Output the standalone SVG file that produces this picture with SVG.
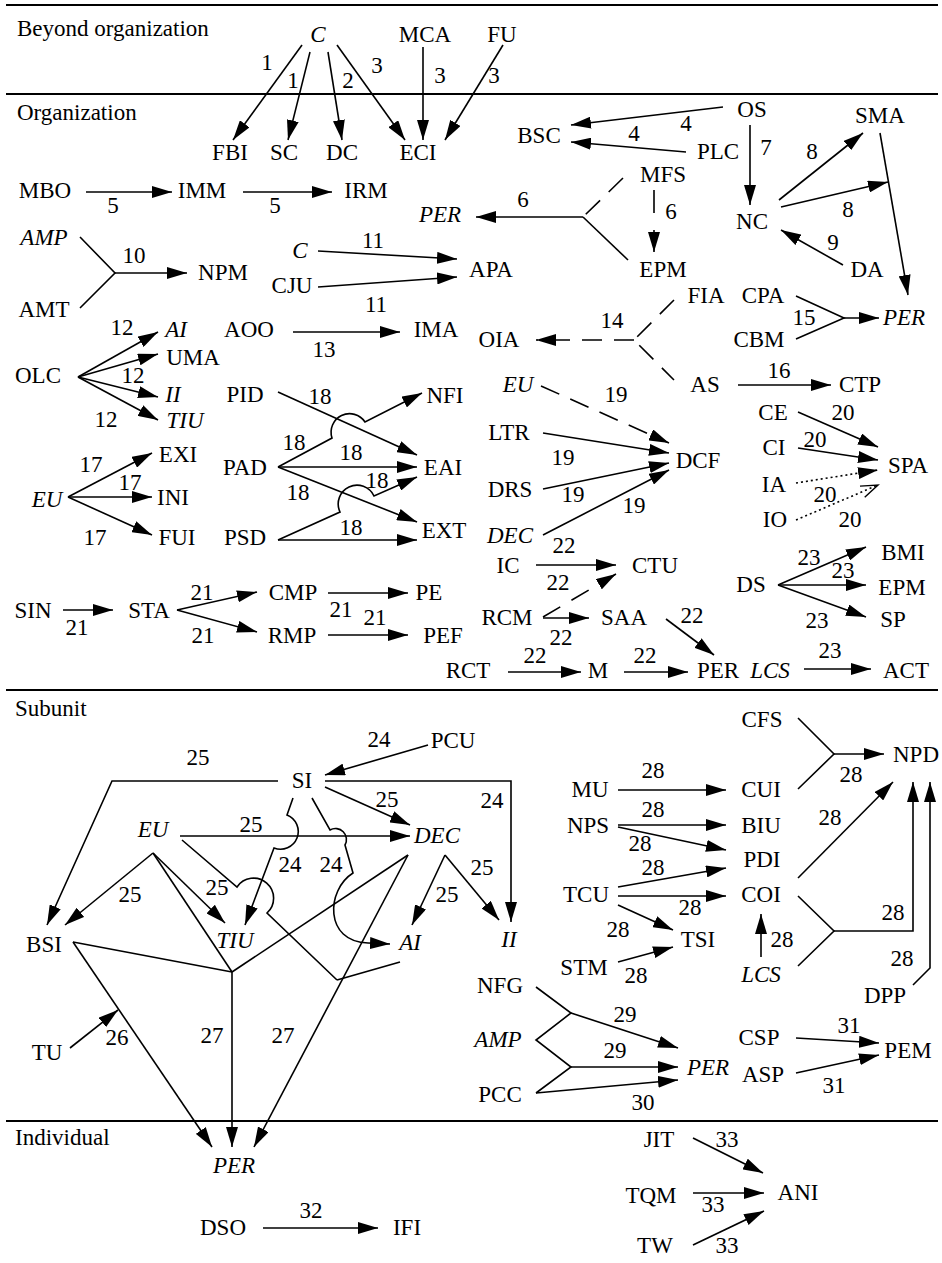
<svg xmlns="http://www.w3.org/2000/svg" width="942" height="1263" viewBox="0 0 942 1263" font-family="'Liberation Serif', 'Times New Roman', Times, serif">
<style>
text{font-family:'Liberation Serif', 'Times New Roman', Times, serif;font-size:23px;fill:#000;text-anchor:middle}
.i{font-style:italic}
.sec{text-anchor:start}
.e{fill:none;stroke:#000;stroke-width:1.6}
.a{marker-end:url(#ah)}
.ao{marker-end:url(#ao)}
.d{stroke-dasharray:20 12}
.o{stroke-dasharray:2 3}
.div{stroke:#000;stroke-width:2.2}
</style>
<defs>
<marker id="ah" markerUnits="userSpaceOnUse" markerWidth="20" markerHeight="12" viewBox="0 0 20 12" refX="20" refY="6" orient="auto"><path d="M0,0L20,6L0,12Z" fill="#000"/></marker>
<marker id="ao" markerUnits="userSpaceOnUse" markerWidth="20" markerHeight="14" viewBox="0 0 20 14" refX="19" refY="7" orient="auto" overflow="visible"><path d="M2,1L19,7L2,13" fill="none" stroke="#000" stroke-width="1.4"/></marker>
</defs>
<rect width="942" height="1263" fill="#fff"/>

<g id="dividers" font-family="'Liberation Serif', serif">
<line class="div" x1="6" y1="5" x2="938" y2="5"/>
<line class="div" x1="6" y1="94" x2="938" y2="94"/>
<line class="div" x1="6" y1="690" x2="938" y2="690"/>
<line class="div" x1="6" y1="1121" x2="938" y2="1121"/>
<text class="sec" x="17" y="36">Beyond organization</text>
<text class="sec" x="17" y="120">Organization</text>
<text class="sec" x="15" y="716">Subunit</text>
<text class="sec" x="15" y="1145">Individual</text>
</g>

<g id="connectors" font-family="'Liberation Serif', serif">
<line class="e a" x1="302" y1="45" x2="233" y2="140"/>
<line class="e a" x1="310" y1="52" x2="288" y2="140"/>
<line class="e a" x1="328" y1="52" x2="342" y2="140"/>
<line class="e a" x1="337" y1="45" x2="405" y2="140"/>
<line class="e a" x1="423" y1="47" x2="423" y2="140"/>
<line class="e a" x1="503" y1="45" x2="445" y2="140"/>
<line class="e a" x1="86" y1="192" x2="172" y2="192"/>
<line class="e a" x1="243" y1="192" x2="332" y2="192"/>
<line class="e a" x1="723" y1="107" x2="571" y2="125"/>
<line class="e a" x1="686" y1="152" x2="571" y2="142"/>
<line class="e a" x1="750" y1="125" x2="750" y2="205"/>
<line class="e a" x1="779" y1="200" x2="863" y2="133"/>
<line class="e a" x1="781" y1="207" x2="888" y2="182"/>
<line class="e a" x1="880" y1="133" x2="908" y2="295"/>
<line class="e a" x1="843" y1="265" x2="781" y2="230"/>
<line class="e d" x1="623" y1="178" x2="583" y2="217"/>
<line class="e" x1="628" y1="260" x2="583" y2="217"/>
<line class="e a" x1="583" y1="217" x2="476" y2="217"/>
<line class="e a" x1="654" y1="190" x2="654" y2="252" stroke-dasharray="23 17 40"/>
<polyline class="e" points="80,237 115,273 80,308"/>
<line class="e a" x1="115" y1="273" x2="187" y2="273"/>
<line class="e a" x1="318" y1="251" x2="457" y2="259"/>
<line class="e a" x1="318" y1="287" x2="457" y2="277"/>
<line class="e a" x1="293" y1="332" x2="400" y2="332"/>
<line class="e a" x1="78" y1="377" x2="158" y2="332"/>
<line class="e a" x1="78" y1="377" x2="158" y2="354"/>
<line class="e a" x1="78" y1="377" x2="158" y2="397"/>
<line class="e a" x1="78" y1="377" x2="158" y2="420"/>
<line class="e a" x1="278" y1="392" x2="417" y2="455"/>
<path class="e a" d="M278,467L332,438A18.5,18.5 0 0 1 365,422L422,393"/>
<line class="e a" x1="278" y1="467" x2="417" y2="467"/>
<line class="e a" x1="278" y1="467" x2="417" y2="522"/>
<path class="e a" d="M278,540L340,512A18.5,18.5 0 0 1 374,496L417,477"/>
<line class="e a" x1="278" y1="540" x2="417" y2="540"/>
<line class="e a" x1="68" y1="497" x2="152" y2="453"/>
<line class="e a" x1="68" y1="497" x2="152" y2="497"/>
<line class="e a" x1="68" y1="497" x2="152" y2="535"/>
<polyline class="e d" points="674,300 634,340 674,380"/>
<line class="e d a" x1="634" y1="340" x2="536" y2="340"/>
<polyline class="e" points="796,296 844,318 796,339"/>
<line class="e a" x1="844" y1="318" x2="879" y2="318"/>
<line class="e a" x1="738" y1="385" x2="831" y2="385"/>
<line class="e d a" x1="541" y1="386" x2="669" y2="443"/>
<line class="e a" x1="543" y1="433" x2="669" y2="453"/>
<line class="e a" x1="543" y1="489" x2="669" y2="463"/>
<line class="e a" x1="543" y1="535" x2="669" y2="470"/>
<line class="e a" x1="798" y1="412" x2="878" y2="447"/>
<line class="e a" x1="798" y1="448" x2="878" y2="460"/>
<line class="e o a" x1="796" y1="483" x2="878" y2="470"/>
<line class="e o ao" x1="796" y1="520" x2="878" y2="485"/>
<line class="e a" x1="536" y1="565" x2="616" y2="565"/>
<line class="e a" x1="543" y1="617" x2="616" y2="574" stroke-dasharray="20 13"/>
<line class="e a" x1="543" y1="618" x2="589" y2="618"/>
<line class="e a" x1="666" y1="619" x2="714" y2="655"/>
<line class="e a" x1="508" y1="672" x2="581" y2="672"/>
<line class="e a" x1="624" y1="672" x2="688" y2="672"/>
<line class="e a" x1="778" y1="585" x2="866" y2="547"/>
<line class="e a" x1="778" y1="585" x2="866" y2="585"/>
<line class="e a" x1="778" y1="585" x2="866" y2="617"/>
<line class="e a" x1="804" y1="669" x2="871" y2="669"/>
<line class="e a" x1="63" y1="610" x2="113" y2="610"/>
<line class="e a" x1="177" y1="610" x2="257" y2="592"/>
<line class="e a" x1="177" y1="610" x2="257" y2="632"/>
<line class="e a" x1="328" y1="593" x2="408" y2="593"/>
<line class="e a" x1="328" y1="635" x2="408" y2="635"/>
<line class="e a" x1="428" y1="745" x2="325" y2="775"/>
<path class="e a" d="M278,781L112,781L47,925"/>
<path class="e a" d="M325,781L511,781L511,922"/>
<line class="e a" x1="325" y1="787" x2="410" y2="825"/>
<line class="e a" x1="180" y1="836" x2="410" y2="836"/>
<path class="e a" d="M293,798L287,815A17.7,17.7 0 0 1 274,848L245,925"/>
<path class="e a" d="M312,798L330,830A11,11 0 0 1 345,845L353,873C326,890 324,942 368,943L390,944"/>
<line class="e a" x1="153" y1="853" x2="65" y2="925"/>
<line class="e a" x1="153" y1="853" x2="225" y2="923"/>
<line class="e" x1="153" y1="853" x2="232" y2="972"/>
<path class="e" d="M182,840L237,887A20,20 0 1 1 267,913L337,980"/>
<line class="e" x1="73" y1="942" x2="232" y2="972"/>
<line class="e" x1="408" y1="855" x2="232" y2="972"/>
<line class="e a" x1="232" y1="972" x2="232" y2="1147"/>
<line class="e" x1="400" y1="962" x2="337" y2="980"/>
<line class="e a" x1="408" y1="855" x2="254" y2="1147"/>
<line class="e a" x1="73" y1="942" x2="212" y2="1147"/>
<line class="e a" x1="70" y1="1048" x2="118" y2="1010"/>
<line class="e a" x1="445" y1="855" x2="412" y2="925"/>
<line class="e a" x1="445" y1="855" x2="499" y2="920"/>
<line class="e a" x1="618" y1="790" x2="726" y2="790"/>
<line class="e a" x1="618" y1="825" x2="726" y2="825"/>
<line class="e a" x1="618" y1="827" x2="726" y2="850"/>
<line class="e a" x1="618" y1="887" x2="726" y2="868"/>
<line class="e a" x1="618" y1="896" x2="726" y2="896"/>
<line class="e a" x1="618" y1="905" x2="673" y2="930"/>
<line class="e a" x1="618" y1="962" x2="673" y2="947"/>
<line class="e a" x1="761" y1="957" x2="761" y2="914"/>
<polyline class="e" points="798,718 834,754 798,789"/>
<line class="e a" x1="834" y1="754" x2="884" y2="754"/>
<line class="e a" x1="798" y1="878" x2="893" y2="782"/>
<polyline class="e" points="798,896 834,931 798,966"/>
<path class="e a" d="M834,931L913,931L913,782"/>
<path class="e a" d="M913,985L930,968L930,782"/>
<polyline class="e" points="536,987 571,1013 536,1040 571,1067 536,1093"/>
<line class="e a" x1="571" y1="1013" x2="678" y2="1048"/>
<line class="e a" x1="571" y1="1067" x2="678" y2="1067"/>
<line class="e a" x1="536" y1="1093" x2="678" y2="1080"/>
<line class="e a" x1="796" y1="1038" x2="879" y2="1043"/>
<line class="e a" x1="796" y1="1073" x2="879" y2="1055"/>
<line class="e a" x1="263" y1="1228" x2="378" y2="1228"/>
<line class="e a" x1="693" y1="1138" x2="763" y2="1173"/>
<line class="e a" x1="693" y1="1193" x2="764" y2="1193"/>
<line class="e a" x1="693" y1="1245" x2="764" y2="1211"/>

<g id="edge-labels">
<text x="267" y="70">1</text><text x="293" y="88">1</text><text x="348" y="88">2</text>
<text x="377" y="73">3</text><text x="440" y="83">3</text><text x="494" y="83">3</text>
<text x="113" y="213">5</text><text x="275" y="213">5</text>
<text x="686" y="131">4</text><text x="634" y="141">4</text>
<text x="766" y="155">7</text><text x="812" y="159">8</text><text x="848" y="217">8</text>
<text x="833" y="250">9</text>
<text x="523" y="207">6</text><text x="671" y="219">6</text>
<text x="134" y="263">10</text>
<text x="373" y="248">11</text><text x="376" y="312">11</text>
<text x="324" y="357">13</text>
<text x="122" y="335">12</text><text x="133" y="383">12</text><text x="106" y="427">12</text>
<text x="320" y="404">18</text><text x="294" y="450">18</text><text x="351" y="460">18</text>
<text x="298" y="500">18</text><text x="377" y="488">18</text><text x="351" y="535">18</text>
<text x="91" y="472">17</text><text x="130" y="490">17</text><text x="95" y="545">17</text>
<text x="612" y="328">14</text><text x="804" y="325">15</text><text x="779" y="378">16</text>
<text x="616" y="402">19</text><text x="563" y="465">19</text><text x="573" y="502">19</text><text x="634" y="513">19</text>
<text x="843" y="420">20</text><text x="815" y="447">20</text><text x="825" y="502">20</text><text x="850" y="527">20</text>
<text x="564" y="553">22</text><text x="558" y="590">22</text><text x="561" y="645">22</text>
<text x="692" y="623">22</text><text x="535" y="663">22</text><text x="645" y="663">22</text>
<text x="809" y="565">23</text><text x="843" y="578">23</text><text x="817" y="628">23</text><text x="830" y="658">23</text>
<text x="77" y="635">21</text><text x="202" y="600">21</text><text x="203" y="643">21</text>
<text x="341" y="617">21</text><text x="375" y="625">21</text>
<text x="379" y="747">24</text><text x="198" y="765">25</text><text x="492" y="808">24</text>
<text x="387" y="807">25</text><text x="251" y="832">25</text>
<text x="290" y="872">24</text><text x="331" y="872">24</text>
<text x="130" y="902">25</text><text x="217" y="895">25</text>
<text x="447" y="902">25</text><text x="482" y="875">25</text>
<text x="212" y="1043">27</text><text x="283" y="1043">27</text><text x="117" y="1045">26</text>
<text x="653" y="778">28</text><text x="653" y="817">28</text><text x="640" y="851">28</text>
<text x="653" y="875">28</text><text x="690" y="915">28</text><text x="618" y="937">28</text>
<text x="636" y="983">28</text><text x="782" y="947">28</text><text x="851" y="782">28</text>
<text x="830" y="825">28</text><text x="893" y="920">28</text><text x="902" y="966">28</text>
<text x="625" y="1022">29</text><text x="615" y="1058">29</text><text x="643" y="1110">30</text>
<text x="849" y="1033">31</text><text x="834" y="1093">31</text>
<text x="311" y="1218">32</text>
<text x="727" y="1147">33</text><text x="713" y="1212">33</text><text x="727" y="1253">33</text>
</g>
</g>

<g id="nodes" font-family="'Liberation Serif', serif">
<g id="n-C-1"><text class="i" x="318" y="42">C</text></g>
<g id="n-MCA"><text x="425" y="42">MCA</text></g>
<g id="n-FU"><text x="502" y="42">FU</text></g>
<g id="n-FBI"><text x="230" y="160">FBI</text></g>
<g id="n-SC"><text x="284" y="160">SC</text></g>
<g id="n-DC"><text x="342" y="160">DC</text></g>
<g id="n-ECI"><text x="418" y="160">ECI</text></g>
<g id="n-MBO"><text x="45" y="198">MBO</text></g>
<g id="n-IMM"><text x="202" y="198">IMM</text></g>
<g id="n-IRM"><text x="366" y="198">IRM</text></g>
<g id="n-BSC"><text x="539" y="143">BSC</text></g>
<g id="n-OS"><text x="752" y="117">OS</text></g>
<g id="n-PLC"><text x="718" y="159">PLC</text></g>
<g id="n-SMA"><text x="880" y="123">SMA</text></g>
<g id="n-MFS"><text x="663" y="182">MFS</text></g>
<g id="n-NC"><text x="752" y="229">NC</text></g>
<g id="n-PER-1"><text class="i" x="440" y="222">PER</text></g>
<g id="n-EPM-1"><text x="663" y="277">EPM</text></g>
<g id="n-DA"><text x="867" y="277">DA</text></g>
<g id="n-APA"><text x="491" y="277">APA</text></g>
<g id="n-AMP-1"><text class="i" x="44" y="245">AMP</text></g>
<g id="n-AMT"><text x="44" y="317">AMT</text></g>
<g id="n-NPM"><text x="223" y="280">NPM</text></g>
<g id="n-C-2"><text class="i" x="300" y="258">C</text></g>
<g id="n-CJU"><text x="292" y="293">CJU</text></g>
<g id="n-AI-1"><text class="i" x="176" y="337">AI</text></g>
<g id="n-AOO"><text x="249" y="337">AOO</text></g>
<g id="n-IMA"><text x="436" y="337">IMA</text></g>
<g id="n-UMA"><text x="193" y="365">UMA</text></g>
<g id="n-OLC"><text x="38" y="383">OLC</text></g>
<g id="n-II-1"><text class="i" x="173" y="402">II</text></g>
<g id="n-TIU-1"><text class="i" x="185" y="428">TIU</text></g>
<g id="n-PID"><text x="245" y="402">PID</text></g>
<g id="n-NFI"><text x="445" y="403">NFI</text></g>
<g id="n-FIA"><text x="706" y="303">FIA</text></g>
<g id="n-CPA"><text x="763" y="303">CPA</text></g>
<g id="n-CBM"><text x="759" y="347">CBM</text></g>
<g id="n-PER-2"><text class="i" x="904" y="325">PER</text></g>
<g id="n-OIA"><text x="499" y="347">OIA</text></g>
<g id="n-AS"><text x="705" y="392">AS</text></g>
<g id="n-CTP"><text x="860" y="392">CTP</text></g>
<g id="n-EU-1"><text class="i" x="518" y="392">EU</text></g>
<g id="n-CE"><text x="773" y="420">CE</text></g>
<g id="n-CI"><text x="774" y="455">CI</text></g>
<g id="n-IA"><text x="774" y="492">IA</text></g>
<g id="n-IO"><text x="775" y="527">IO</text></g>
<g id="n-SPA"><text x="908" y="473">SPA</text></g>
<g id="n-LTR"><text x="509" y="440">LTR</text></g>
<g id="n-DCF"><text x="698" y="468">DCF</text></g>
<g id="n-DRS"><text x="510" y="497">DRS</text></g>
<g id="n-DEC-1"><text class="i" x="510" y="543">DEC</text></g>
<g id="n-EXI"><text x="178" y="462">EXI</text></g>
<g id="n-INI"><text x="173" y="505">INI</text></g>
<g id="n-FUI"><text x="177" y="545">FUI</text></g>
<g id="n-EU-2"><text class="i" x="47" y="507">EU</text></g>
<g id="n-PAD"><text x="245" y="475">PAD</text></g>
<g id="n-EAI"><text x="443" y="475">EAI</text></g>
<g id="n-EXT"><text x="444" y="538">EXT</text></g>
<g id="n-PSD"><text x="245" y="545">PSD</text></g>
<g id="n-IC"><text x="508" y="573">IC</text></g>
<g id="n-CTU"><text x="655" y="573">CTU</text></g>
<g id="n-RCM"><text x="507" y="625">RCM</text></g>
<g id="n-SAA"><text x="624" y="625">SAA</text></g>
<g id="n-DS"><text x="751" y="592">DS</text></g>
<g id="n-BMI"><text x="903" y="560">BMI</text></g>
<g id="n-EPM-2"><text x="902" y="595">EPM</text></g>
<g id="n-SP"><text x="893" y="627">SP</text></g>
<g id="n-SIN"><text x="33" y="618">SIN</text></g>
<g id="n-STA"><text x="149" y="618">STA</text></g>
<g id="n-CMP"><text x="293" y="600">CMP</text></g>
<g id="n-PE"><text x="429" y="600">PE</text></g>
<g id="n-RMP"><text x="292" y="643">RMP</text></g>
<g id="n-PEF"><text x="443" y="643">PEF</text></g>
<g id="n-RCT"><text x="468" y="678">RCT</text></g>
<g id="n-M"><text x="598" y="678">M</text></g>
<g id="n-PER-3"><text x="718" y="678">PER</text></g>
<g id="n-LCS-1"><text class="i" x="770" y="678">LCS</text></g>
<g id="n-ACT"><text x="906" y="678">ACT</text></g>
<g id="n-PCU"><text x="453" y="748">PCU</text></g>
<g id="n-SI"><text x="302" y="788">SI</text></g>
<g id="n-EU-3"><text class="i" x="153" y="837">EU</text></g>
<g id="n-DEC-2"><text class="i" x="437" y="843">DEC</text></g>
<g id="n-BSI"><text x="44" y="952">BSI</text></g>
<g id="n-TIU-2"><text class="i" x="235" y="948">TIU</text></g>
<g id="n-AI-2"><text class="i" x="410" y="950">AI</text></g>
<g id="n-II-2"><text class="i" x="509" y="947">II</text></g>
<g id="n-TU"><text x="47" y="1060">TU</text></g>
<g id="n-CFS"><text x="762" y="727">CFS</text></g>
<g id="n-NPD"><text x="916" y="762">NPD</text></g>
<g id="n-MU"><text x="590" y="797">MU</text></g>
<g id="n-CUI"><text x="761" y="797">CUI</text></g>
<g id="n-NPS"><text x="588" y="833">NPS</text></g>
<g id="n-BIU"><text x="761" y="833">BIU</text></g>
<g id="n-PDI"><text x="762" y="867">PDI</text></g>
<g id="n-TCU"><text x="586" y="902">TCU</text></g>
<g id="n-COI"><text x="761" y="902">COI</text></g>
<g id="n-TSI"><text x="698" y="947">TSI</text></g>
<g id="n-STM"><text x="584" y="975">STM</text></g>
<g id="n-LCS-2"><text class="i" x="761" y="982">LCS</text></g>
<g id="n-DPP"><text x="885" y="1003">DPP</text></g>
<g id="n-NFG"><text x="500" y="993">NFG</text></g>
<g id="n-AMP-2"><text class="i" x="498" y="1047">AMP</text></g>
<g id="n-PCC"><text x="500" y="1102">PCC</text></g>
<g id="n-PER-4"><text class="i" x="708" y="1075">PER</text></g>
<g id="n-CSP"><text x="759" y="1045">CSP</text></g>
<g id="n-ASP"><text x="763" y="1082">ASP</text></g>
<g id="n-PEM"><text x="908" y="1058">PEM</text></g>
<g id="n-PER-5"><text class="i" x="234" y="1173">PER</text></g>
<g id="n-DSO"><text x="223" y="1235">DSO</text></g>
<g id="n-IFI"><text x="407" y="1235">IFI</text></g>
<g id="n-JIT"><text x="659" y="1147">JIT</text></g>
<g id="n-TQM"><text x="651" y="1203">TQM</text></g>
<g id="n-ANI"><text x="798" y="1200">ANI</text></g>
<g id="n-TW"><text x="655" y="1253">TW</text></g>
</g>
</svg>
